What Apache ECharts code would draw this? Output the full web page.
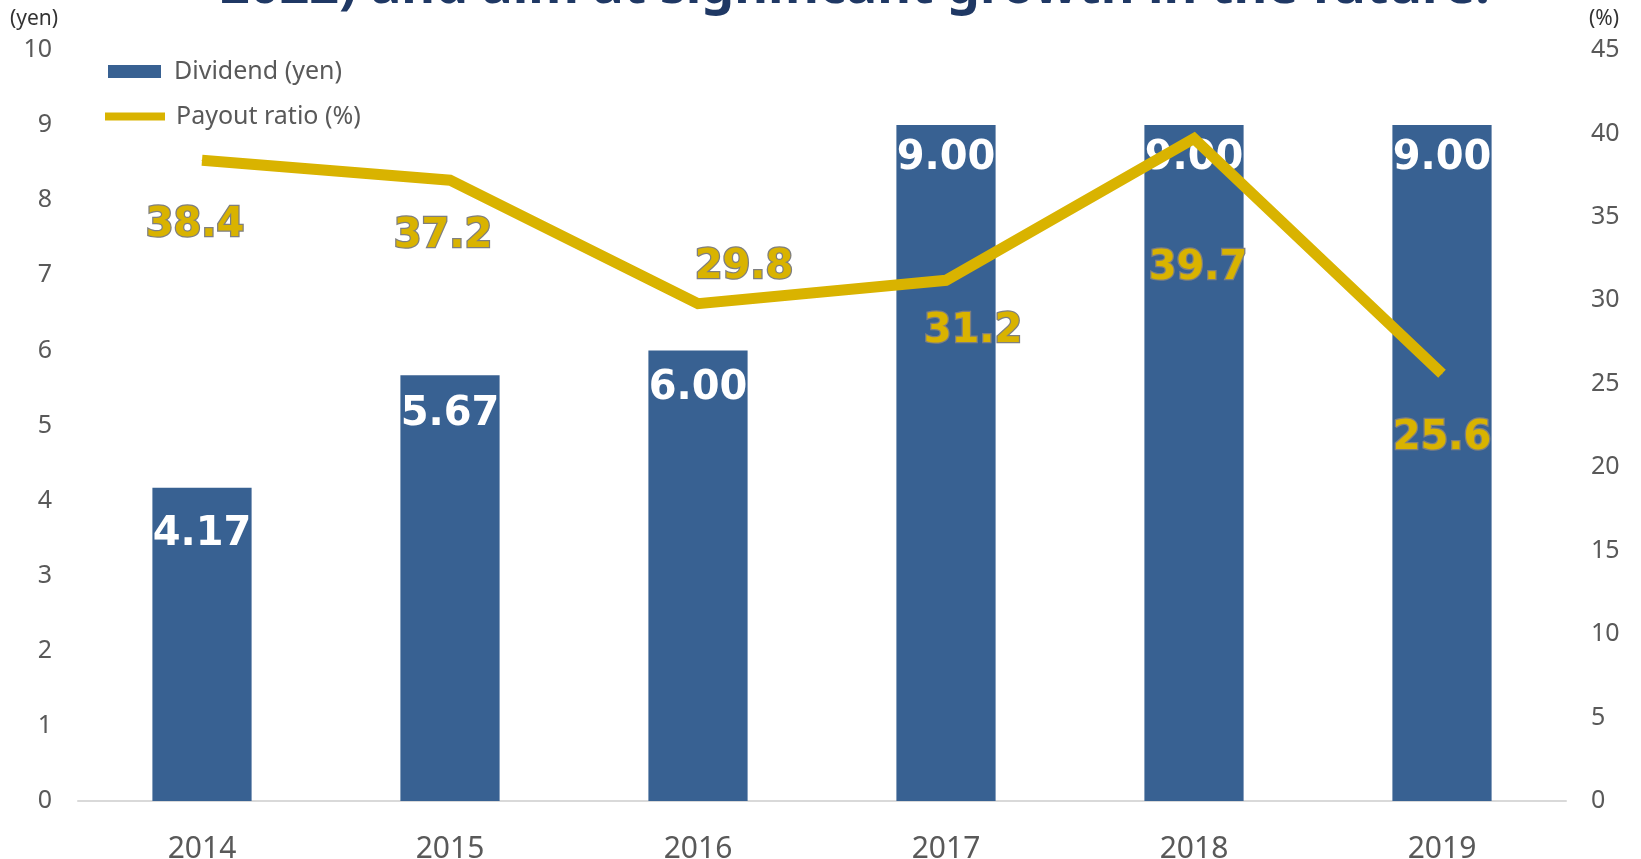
<!DOCTYPE html>
<html>
<head>
<meta charset="utf-8">
<script src="https://cdn.jsdelivr.net/npm/echarts@6/dist/echarts.min.js"></script>
<style>
  html, body { margin: 0; padding: 0; background: #ffffff; }
  #chart { width: 1641px; height: 859px; }
</style>
</head>
<body>
<div id="chart"></div>
<script>
// Fiscal years
const years = ['2014', '2015', '2016', '2017', '2018', '2019'];
// Dividend per share (yen)
const dividend = [4.17, 5.67, 6.00, 9.00, 9.00, 9.00];
// Payout ratio (%)
const payoutRatio = [38.4, 37.2, 29.8, 31.2, 39.7, 25.6];

// Left axis ticks (yen) and right axis ticks (%)
const yenAxis = { min: 0, max: 10, step: 1 };
const pctAxis = { min: 0, max: 45, step: 5 };

// Label nudges, in pixels, relative to each mark
const payoutLabelShift = [[-7, 65], [-7, 56], [46, -36], [27, 51], [4, 130], [0, 65]];
const dividendLabelShift = [17, 9, 8, 4, 4, 4];

const BLUE = '#386192';
const GOLD = '#D9B300';
const TICK = '#595959';
const FONT = "'Noto Sans', 'DejaVu Sans', sans-serif";
const BOLD = "'DejaVu Sans', 'Noto Sans', sans-serif";

const chart = echarts.init(document.getElementById('chart'), null, { renderer: 'canvas' });

chart.setOption({
  animation: false,
  backgroundColor: '#ffffff',
  grid: {
    left: 78, right: 75, top: 50, bottom: 58,
    containLabel: false,
    outerBoundsMode: 'none'
  },
  legend: [
    {
      data: [{ name: 'Dividend (yen)', icon: 'rect' }],
      left: 103, top: 54,
      itemWidth: 53, itemHeight: 13,
      textStyle: { fontFamily: FONT, fontSize: 25, color: TICK, padding: [0, 0, 0, 8] },
      selectedMode: false
    },
    {
      data: [{ name: 'Payout ratio (%)', icon: 'rect' }],
      left: 100, top: 99,
      itemWidth: 60, itemHeight: 8,
      textStyle: { fontFamily: FONT, fontSize: 25, color: TICK, padding: [0, 0, 0, 6] },
      selectedMode: false
    }
  ],
  graphic: [
    {
      type: 'text', x: 855, y: -38, z: 10,
      style: {
        text: '2022) and aim at significant growth in the future.',
        font: "bold 52px 'Noto Sans', sans-serif",
        fill: '#1F3864',
        align: 'center'
      }
    },
    {
      type: 'text', left: 10, top: 9,
      style: { text: '(yen)', font: "21px 'Noto Sans', sans-serif", fill: '#333333' }
    },
    {
      type: 'text', left: 1589, top: 9,
      style: { text: '(%)', font: "21px 'Noto Sans', sans-serif", fill: '#333333' }
    }
  ],
  xAxis: {
    type: 'category',
    data: years,
    axisLine: { show: true, lineStyle: { color: '#D9D9D9', width: 2 } },
    axisTick: { show: false },
    axisLabel: { fontFamily: FONT, fontSize: 30, color: TICK, margin: 33 }
  },
  yAxis: [
    {
      type: 'value',
      min: yenAxis.min, max: yenAxis.max, interval: yenAxis.step,
      axisLine: { show: false }, axisTick: { show: false },
      splitLine: { show: false },
      axisLabel: { fontFamily: FONT, fontSize: 25, color: TICK, margin: 26 }
    },
    {
      type: 'value',
      min: pctAxis.min, max: pctAxis.max, interval: pctAxis.step,
      axisLine: { show: false }, axisTick: { show: false },
      splitLine: { show: false },
      axisLabel: { fontFamily: FONT, fontSize: 25, color: TICK, margin: 25 }
    }
  ],
  series: [
    {
      name: 'Dividend (yen)',
      type: 'bar',
      yAxisIndex: 0,
      barWidth: '40%',
      itemStyle: { color: BLUE },
      data: dividend.map((v, i) => ({
        value: v,
        label: { offset: [0, dividendLabelShift[i]] }
      })),
      label: {
        show: true,
        position: 'insideTop',
        distance: 10,
        formatter: p => p.value.toFixed(2),
        fontFamily: BOLD,
        fontWeight: 'bold',
        fontSize: 40,
        lineHeight: 40,
        color: '#ffffff'
      },
      z: 2
    },
    {
      name: 'Payout ratio (%)',
      type: 'line',
      yAxisIndex: 1,
      symbol: 'circle',
      symbolSize: 1,
      showSymbol: true,
      lineStyle: { color: GOLD, width: 11, join: 'miter' },
      itemStyle: { color: GOLD },
      data: payoutRatio.map((v, i) => ({
        value: v,
        label: { offset: payoutLabelShift[i] }
      })),
      label: {
        show: true,
        position: 'inside',
        align: 'center',
        verticalAlign: 'middle',
        formatter: p => p.value.toFixed(1),
        fontFamily: BOLD,
        fontWeight: 'bold',
        fontSize: 40,
        color: GOLD,
        textBorderColor: '#7F7F7F',
        textBorderWidth: 2.5
      },
      z: 5
    }
  ]
});
</script>
</body>
</html>
